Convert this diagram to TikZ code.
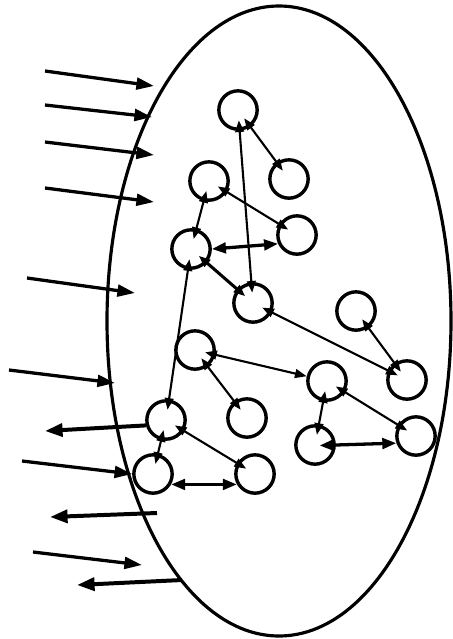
\documentclass[tikz,border=0pt]{standalone}
\usetikzlibrary{arrows.meta}

\tikzset{
    agent/.style={circle, draw, line width=2.9pt, inner sep=0pt, minimum size=1.15cm},
    link/.style={{Triangle[length=10pt,width=7.5pt]}-{Triangle[length=10pt,width=7.5pt]},
        line width=1.8pt, shorten <=-9pt, shorten >=-9pt},
    biglink/.style={{Triangle[length=12pt,width=9pt]}-{Triangle[length=12pt,width=9pt]},
        line width=2.8pt},
    inarrow/.style={-{Triangle[length=15pt,width=10pt]}, line width=2.8pt},
    outarrow/.style={-{Triangle[length=15pt,width=11pt]}, line width=3.4pt}
}

\begin{document}
\begin{tikzpicture}[x=0.03cm, y=-0.03cm]
    \useasboundingbox (0,0) rectangle (453,639);

    % the system boundary
    \draw[line width=2.7pt] (279,321) ellipse [x radius=172, y radius=315];

    % elements of the system
    \node[agent] (e1)  at (238,110) {};
    \node[agent] (e2)  at (289,179) {};
    \node[agent] (e3)  at (209,181) {};
    \node[agent] (e4)  at (297,235) {};
    \node[agent] (e5)  at (191,249) {};
    \node[agent] (e6)  at (253,303) {};
    \node[agent] (e7)  at (356,311) {};
    \node[agent] (e8)  at (195,350) {};
    \node[agent] (e9)  at (327,381) {};
    \node[agent] (e10) at (407,380) {};
    \node[agent] (e11) at (247,418) {};
    \node[agent] (e12) at (166,420) {};
    \node[agent] (e13) at (416,436) {};
    \node[agent] (e14) at (315,445) {};
    \node[agent] (e15) at (153,474) {};
    \node[agent] (e16) at (255,474) {};

    % links between the elements
    \draw[link] (e1) -- (e2);
    \draw[link] (e1) -- (e6);
    \draw[link] (e3) -- (e5);
    \draw[link] (e3) -- (e4);
    \draw[link, line width=2.6pt] (e5) -- (e6);
    \draw[link] (e6) -- (e10);
    \draw[link] (e7) -- (e10);
    \draw[link, shorten >=0pt] (e8) -- (e9);
    \draw[link] (e8) -- (e11);
    \draw[link] (e5) -- (e12);
    \draw[link] (e12) -- (e15);
    \draw[link] (e12) -- (e16);
    \draw[link] (e9) -- (e14);
    \draw[link] (e9) -- (e13);
    \draw[biglink] (e5.east) -- (e4.205);
    \draw[biglink] (e15.330) -- (e16.210);
    \draw[biglink, shorten <=-14pt] (e14.east) -- (e13.200);

    % inputs from the environment
    \coordinate (in1) at (45,71);   \coordinate (to1) at (154,86);
    \coordinate (in2) at (45,105);  \coordinate (to2) at (152,117);
    \coordinate (in3) at (45,142);  \coordinate (to3) at (154,155);
    \coordinate (in4) at (45,188);  \coordinate (to4) at (154,202);
    \coordinate (in5) at (27,278);  \coordinate (to5) at (135,293);
    \coordinate (in6) at (9,370);   \coordinate (to6) at (115,383);
    \coordinate (in7) at (22,461);  \coordinate (to7) at (e15.west);
    \coordinate (in8) at (33,552);  \coordinate (to8) at (142,565);
    \draw[inarrow] (in1) -- (to1);
    \draw[inarrow] (in2) -- (to2);
    \draw[inarrow] (in3) -- (to3);
    \draw[inarrow] (in4) -- (to4);
    \draw[inarrow] (in5) -- (to5);
    \draw[inarrow] (in6) -- (to6);
    \draw[inarrow] (in7) -- (to7);
    \draw[inarrow] (in8) -- (to8);

    % outputs to the environment
    \coordinate (out1) at (45,431);
    \coordinate (from2) at (157,513); \coordinate (out2) at (50,517);
    \coordinate (from3) at (182,580); \coordinate (out3) at (77,585);
    \draw[outarrow] (e12.195) -- (out1);
    \draw[outarrow] (from2) -- (out2);
    \draw[outarrow] (from3) -- (out3);
\end{tikzpicture}
\end{document}
